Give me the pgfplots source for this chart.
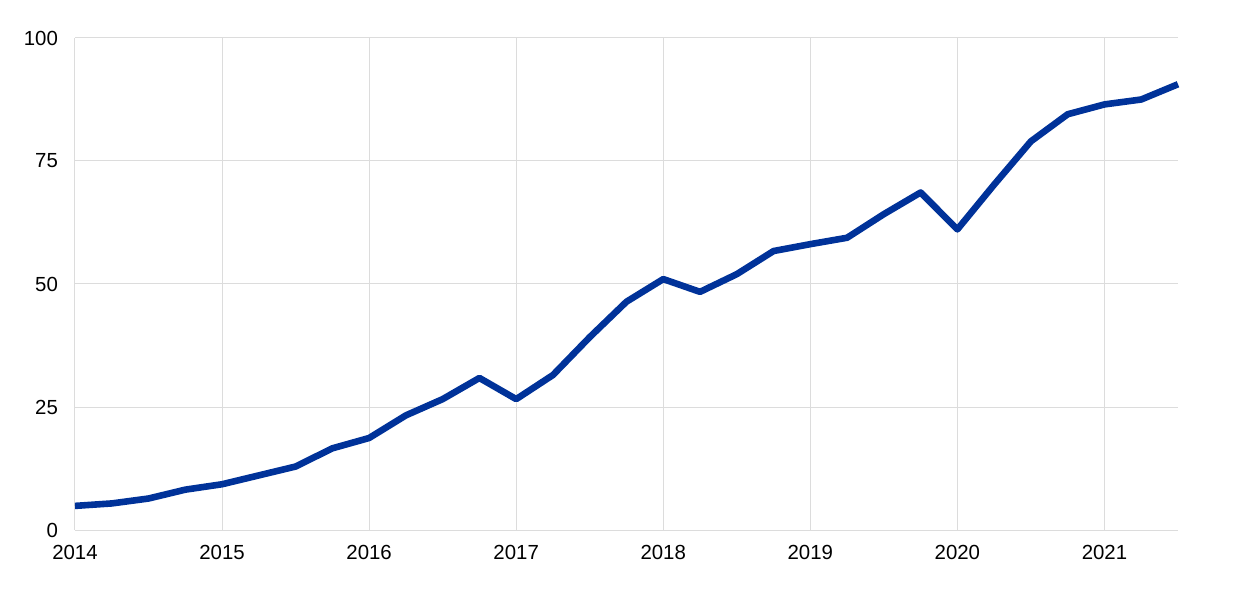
\documentclass[border=0pt]{standalone}
\usepackage{pgfplots}
\pgfplotsset{compat=1.18}
\usepackage{fontspec}
\setmainfont{Liberation Sans}
\definecolor{ecbblue}{HTML}{003299}
\definecolor{gridgray}{HTML}{DCDCDC}
\begin{document}
\begin{tikzpicture}
\begin{axis}[
  scale only axis,
  width=551.5pt, height=246pt,
  xmin=2014, xmax=2021.5,
  ymin=0, ymax=100,
  xtick={2014,2015,...,2021},
  ytick={0,25,50,75,100},
  xticklabel style={/pgf/number format/1000 sep={}},
  /pgf/number format/assume math mode=true,
  tick label style={font=\fontsize{10.2pt}{12pt}\selectfont, text=black},
  xmajorgrids, ymajorgrids,
  grid style={gridgray, line width=0.5pt},
  axis line style={draw=none},
  major tick length=0pt,
  xticklabel shift=4pt,
  yticklabel shift=5pt,
  clip=false,
]
\addplot[ecbblue, line width=3.3pt, line join=round] coordinates {
(2014.00,4.9) (2014.25,5.4) (2014.50,6.4) (2014.75,8.2)
(2015.00,9.3) (2015.25,11.1) (2015.50,12.9) (2015.75,16.6)
(2016.00,18.7) (2016.25,23.3) (2016.50,26.6) (2016.75,30.9)
(2017.00,26.6) (2017.25,31.5) (2017.50,39.2) (2017.75,46.4)
(2018.00,51.0) (2018.25,48.4) (2018.50,52.0) (2018.75,56.7)
(2019.00,58.1) (2019.25,59.4) (2019.50,64.2) (2019.75,68.6)
(2020.00,61.1) (2020.25,70.2) (2020.50,79.0) (2020.75,84.5)
(2021.00,86.5) (2021.25,87.5) (2021.50,90.6)
};
\end{axis}
\pgfresetboundingbox
\path[use as bounding box] (-37.5pt,-29.5pt) rectangle (582.5pt,265pt);
\end{tikzpicture}
\end{document}
